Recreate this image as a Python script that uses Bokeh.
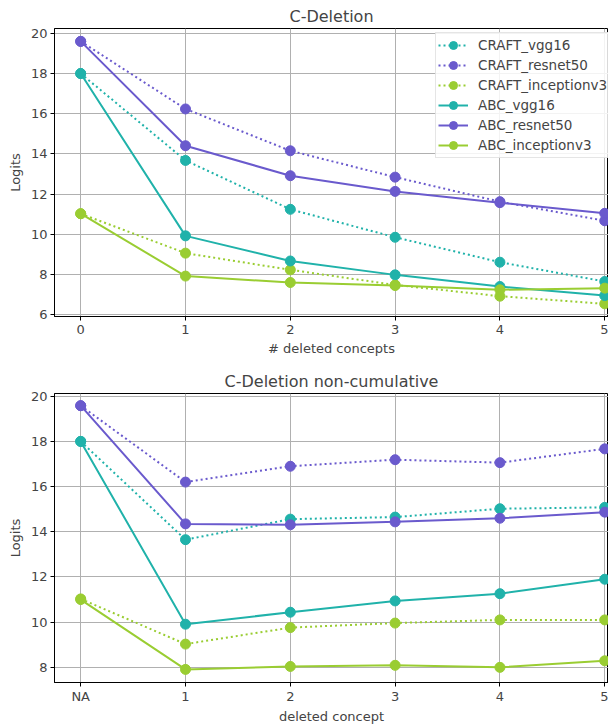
from bokeh.plotting import figure
from bokeh.layouts import column
from bokeh.models import FixedTicker, Range1d
from bokeh.embed import file_html
from bokeh.resources import INLINE

steps = [0, 1, 2, 3, 4, 5]

# Cumulative deletion (top)
cum_craft_vgg16 = [18.0, 13.68, 11.25, 9.86, 8.62, 7.66]
cum_craft_resnet50 = [19.6, 16.24, 14.16, 12.85, 11.63, 10.68]
cum_craft_inceptionv3 = [11.03, 9.07, 8.24, 7.49, 6.93, 6.55]
cum_abc_vgg16 = [18.0, 9.93, 8.68, 7.99, 7.41, 6.96]
cum_abc_resnet50 = [19.6, 14.41, 12.92, 12.14, 11.58, 11.05]
cum_abc_inceptionv3 = [11.03, 7.93, 7.61, 7.46, 7.25, 7.33]

# Non-cumulative deletion (bottom)
nc_craft_vgg16 = [18.0, 13.65, 14.56, 14.65, 15.02, 15.08]
nc_craft_resnet50 = [19.58, 16.2, 16.9, 17.19, 17.06, 17.67]
nc_craft_inceptionv3 = [11.03, 9.03, 9.76, 9.96, 10.1, 10.1]
nc_abc_vgg16 = [18.0, 9.91, 10.44, 10.94, 11.26, 11.9]
nc_abc_resnet50 = [19.58, 14.35, 14.31, 14.44, 14.6, 14.87]
nc_abc_inceptionv3 = [11.0, 7.91, 8.04, 8.09, 8.0, 8.29]

labels = ["CRAFT_vgg16", "CRAFT_resnet50", "CRAFT_inceptionv3",
          "ABC_vgg16", "ABC_resnet50", "ABC_inceptionv3"]
colors = ["#20B2AA", "#6A5ACD", "#9ACD32", "#20B2AA", "#6A5ACD", "#9ACD32"]
dashes = ["dotted", "dotted", "dotted", "solid", "solid", "solid"]

FONT = "DejaVu Sans"


def make_fig(title, series, xlabel, yticks, ylim, xtick_labels, legend,
             top_border, bottom_border, frame_h, x_standoff):
    p = figure(output_backend="svg", toolbar_location=None,
               frame_width=554, frame_height=frame_h,
               min_border_left=54, min_border_right=0,
               min_border_top=top_border, min_border_bottom=bottom_border,
               x_range=Range1d(-0.25, 5.036), y_range=Range1d(*ylim))
    p.title.text = title
    p.title.align = "center"
    p.title.text_font = FONT
    p.title.text_font_size = "16px"
    p.title.text_font_style = "normal"
    p.title.standoff = 5
    p.title.offset = 0
    for vals, lab, col, dash in zip(series, labels, colors, dashes):
        if dash == "dotted":
            p.line(steps, vals, line_color=col, line_width=2, line_dash="2 3",
                   legend_label=lab)
        else:
            p.line(steps, vals, line_color=col, line_width=2, legend_label=lab)
        p.scatter(steps, vals, size=10, fill_color=col, line_color=col,
                  legend_label=lab)
    p.xaxis.ticker = FixedTicker(ticks=steps)
    p.xaxis.major_label_overrides = {i: t for i, t in zip(steps, xtick_labels)}
    p.yaxis.ticker = FixedTicker(ticks=yticks)
    p.xaxis.axis_label = xlabel
    p.yaxis.axis_label = "Logits"
    for ax in (p.xaxis[0], p.yaxis[0]):
        ax.axis_label_text_font = FONT
        ax.axis_label_text_font_size = "13px"
        ax.axis_label_text_font_style = "normal"
        ax.major_label_text_font = FONT
        ax.major_label_text_font_size = "13px"
        ax.axis_line_color = "black"
        ax.major_tick_line_color = "black"
        ax.major_tick_out = 4
        ax.major_tick_in = 0
        ax.minor_tick_line_color = None
        ax.major_label_standoff = 3
        ax.axis_label_standoff = 5
    p.xaxis[0].major_label_standoff = x_standoff
    p.xaxis[0].axis_label_standoff = x_standoff
    p.grid.grid_line_color = "#b0b0b0"
    p.grid.grid_line_width = 1
    p.outline_line_color = "black"
    p.outline_line_alpha = 1
    if legend:
        lg = p.legend[0]
        lg.location = (381, 158)
        lg.label_text_font = FONT
        lg.label_text_font_size = "13.5px"
        lg.glyph_width = 30
        lg.glyph_height = 20
        lg.label_height = 20
        lg.label_standoff = 10
        lg.spacing = 0
        lg.padding = 2
        lg.margin = 0
        lg.border_line_color = "#cccccc"
        lg.background_fill_alpha = 0.85
    else:
        p.legend.visible = False
    return p


p1 = make_fig("C-Deletion",
              [cum_craft_vgg16, cum_craft_resnet50, cum_craft_inceptionv3,
               cum_abc_vgg16, cum_abc_resnet50, cum_abc_inceptionv3],
              "# deleted concepts", [6, 8, 10, 12, 14, 16, 18, 20], (5.92, 20.24),
              ["0", "1", "2", "3", "4", "5"], True, 28, 47, 288, 4)
p2 = make_fig("C-Deletion non-cumulative",
              [nc_craft_vgg16, nc_craft_resnet50, nc_craft_inceptionv3,
               nc_abc_vgg16, nc_abc_resnet50, nc_abc_inceptionv3],
              "deleted concept", [8, 10, 12, 14, 16, 18, 20], (7.33, 20.12),
              ["NA", "1", "2", "3", "4", "5"], False, 30, 32, 289, 2)

layout = column(p1, p2, spacing=0)
open("out.html", "w").write(file_html(layout, INLINE))
